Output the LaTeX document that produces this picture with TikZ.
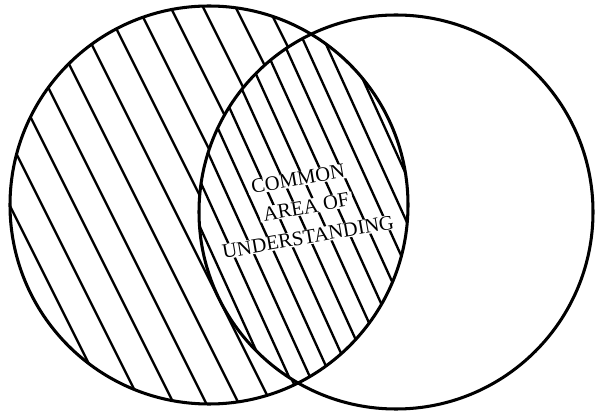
\documentclass[tikz,border=0pt]{standalone}
\usepackage{fontspec}
\setmainfont{Liberation Serif}
\usepackage{tikz}
\usetikzlibrary{positioning}

\begin{document}
\begin{tikzpicture}[x=0.3mm,y=0.3mm,
        rim/.style={line width=2.6pt},
        hatch/.style={line width=2pt},
        areatext/.style={fill=white,inner xsep=3pt,inner ysep=0.5pt,rotate=10,font=\fontsize{17.5}{20}\selectfont}]
        \useasboundingbox (0,0) rectangle (595,411);
        \coordinate (lc) at (209,206);
        \coordinate (rc) at (396,199);

        % hatching of the left circle
        \begin{scope}
            \clip (lc) circle (199);
            \foreach \c in {160,225,...,1100}
                \draw[hatch] ({\c/2},0) -- ({(\c-420)/2},420);
            % the common part gets its own, closer lines
            \clip (rc) circle (197);
            \fill[white] (0,0) rectangle (595,411);
            \foreach \c in {440,486,...,1300}
                \draw[hatch] ({\c/2.2},0) -- ({(\c-420)/2.2},420);
        \end{scope}

        \draw[rim] (lc) circle (199);
        \draw[rim] (rc) circle (197);

        \node[areatext] (common) at (298,232) {COMMON};
        \node[areatext] (areaof) at (306,204) {AREA OF};
        \node[areatext] (underst) at (308,174) {UNDERSTANDING};
\end{tikzpicture}
\end{document}
